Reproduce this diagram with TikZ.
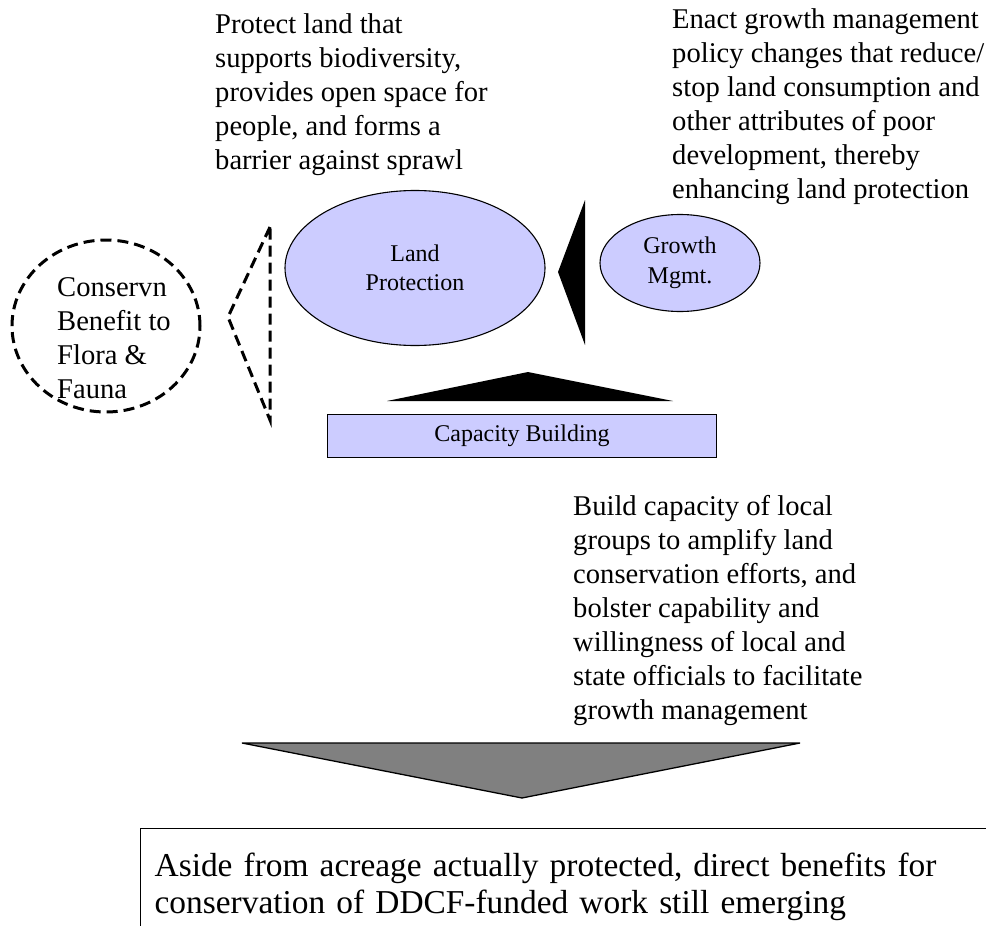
\documentclass[tikz,border=0pt]{standalone}
\usepackage{fontspec}
\setmainfont{Liberation Serif}
\definecolor{lavender}{RGB}{204,204,255}
\definecolor{midgray}{RGB}{128,128,128}
\usepackage{tikz}
\usetikzlibrary{shapes,positioning}

\begin{document}
\begin{tikzpicture}[x=1pt,y=-1pt,
    oval/.style={draw,ellipse,fill=lavender,line width=1.1pt,inner sep=0pt,
                 align=center,font=\fontsize{24}{29.5}\selectfont},
    note/.style={anchor=north west,inner sep=0pt,align=left,
                 font=\fontsize{28.6}{34}\selectfont},
    dashy/.style={line width=3pt,dash pattern=on 11pt off 6pt}]
    \useasboundingbox (0,0) rectangle (986,926);
    \clip (0,0) rectangle (986,926);

    % the three activities
    \node[oval,minimum width=260pt,minimum height=155pt] (landprot) at (415,268) {Land\\Protection};
    \node[oval,minimum width=160pt,minimum height=97pt] (growth) at (680,263) {Growth\\Mgmt.};
    \node[draw,fill=lavender,line width=1.1pt,minimum width=389pt,minimum height=43pt,
          font=\fontsize{24}{29}\selectfont] (capacity) at (522,436) {Capacity Building};
    \node[draw,ellipse,dashy,minimum width=188pt,minimum height=172pt] (conserv) at (106,326) {};
    \node[note] (conservtxt) at (57,277) {Conservn\\Benefit to\\Flora \&\\Fauna};

    % block arrows
    \fill (585,200) -- (558,272) -- (585,345) -- cycle;
    \fill (387,401) -- (528,372) -- (673,401) -- cycle;
    \draw[dashy] (270,227) -- (228,317) -- (270,420) -- cycle;
    \draw[fill=midgray,line width=1.3pt] (242,743) -- (800,743) -- (522,798) -- cycle;

    \node[note] (protecttxt) at (215,13) {Protect land that\\supports biodiversity,\\provides open space for\\people, and forms a\\barrier against sprawl};
    \node[note] (enacttxt) at (672,8) {Enact growth management\\policy changes that reduce/\\stop land consumption and\\other attributes of poor\\development, thereby\\enhancing land protection};
    \node[note] (buildtxt) at (573,495) {Build capacity of local\\groups to amplify land\\conservation efforts, and\\bolster capability and\\willingness of local and\\state officials to facilitate\\growth management};

    \node[draw,line width=1.3pt,anchor=north west,inner xsep=14pt,inner ysep=24pt,
          text width=860pt,align=left,font=\fontsize{33.4}{37}\selectfont] (outcome) at (140,828)
          {Aside from acreage actually protected, direct benefits for\\conservation of DDCF-funded work still emerging};
\end{tikzpicture}
\end{document}
